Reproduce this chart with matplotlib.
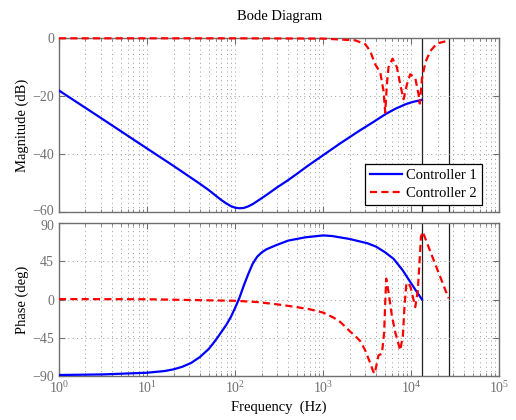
import matplotlib
matplotlib.use('Agg')
import matplotlib.pyplot as plt
import matplotlib.transforms as mtrans

plt.rcParams['font.family'] = ['Liberation Serif', 'DejaVu Serif']
plt.rcParams['mathtext.fontset'] = 'stix'
plt.rcParams['font.size'] = 10.5

# Controller 1 (blue)
f_mag1 = [1, 3, 10, 20, 40, 50, 60, 70, 80, 90, 100, 112, 125, 140, 160, 190, 230,
          300, 387, 500, 653, 1000, 1550, 2630, 3700, 5070, 6500, 8530, 10500,
          12650, 13240]
mag1 = [-18, -27.5, -38, -44, -50.2, -52.3, -54.2, -55.8, -57, -57.9, -58.4, -58.6,
        -58.5, -58, -57.1, -55.6, -53.9, -51.4, -49.2, -46.8, -44.2, -40.3, -36.3,
        -31.7, -28.9, -26.2, -24.4, -22.8, -21.9, -21.4, -21.2]
f_ph1 = [1, 3.16, 10, 15.8, 20, 25.1, 31.6, 39.8, 50.1, 56.2, 63.1, 70.8, 79.4, 89.1,
         100, 112, 126, 141, 158, 178, 200, 224, 282, 398, 631, 1000, 1259, 1995,
         3162, 3981, 5012, 6310, 7943, 10000, 11482, 13240]
ph1 = [-89.2, -88.5, -86.5, -84.5, -82.5, -79.5, -75, -68, -58.5, -52, -45, -37.5,
       -30, -21, -10, 2, 17, 30, 42, 50.5, 55.5, 59, 63.5, 69.5, 73.5, 75.7, 75, 71.5,
       66.5, 62.5, 56, 48, 35, 19, 9.5, 0]

# Controller 2 (red)
f_mag2 = [1, 100, 1000, 2310, 3000, 3420, 3900, 4450, 4840, 5070, 5290, 5520, 6130,
          6880, 7500, 8180, 8940, 9750, 11100, 12100, 12500, 13240, 14450, 16450,
          19600, 25500, 26550]
mag2 = [0, 0, -0.1, -0.7, -2, -4.4, -9, -11.8, -18, -25.6, -15.9, -10, -7, -10,
        -15.9, -21, -15.9, -12.4, -13.6, -19.3, -22.5, -14, -8.4, -4.4, -1.8, -0.9, -0.8]
f_ph2 = [1, 10, 40, 100, 178, 316, 501, 708, 1000, 1318, 1560, 1780, 2030, 2310,
         2630, 3000, 3420, 3700, 3850, 4250, 4650, 4930, 5070, 5200, 5520, 6030, 6580,
         7500, 8050, 8400, 8780, 9250, 9870, 11100, 11860, 12420, 12890, 13520, 15740,
         26550]
ph2 = [0.5, 0.3, -0.8, -1.5, -3, -6, -9, -11.6, -15.5, -21.5, -26.5, -32, -38, -43,
       -49, -60, -75, -85, -87.5, -66, -64, -38.5, -3, 24.7, 9, -19, -38.5, -60, -42.5,
       -7, 17, 20, 14, -9, 10, 44, 74, 80, 62, 1.5]

nyq_lines = [13240, 26550]
labels = ['Controller 1', 'Controller 2']

fig = plt.figure(figsize=(5.16, 4.2), dpi=100)
ax1 = fig.add_axes([0.1143, 0.4945, 0.8533, 0.4143])
ax2 = fig.add_axes([0.1143, 0.1055, 0.8533, 0.3628])

gray = '#707070'
grid_kw = dict(color='#9a9a9a', lw=0.7, linestyle=(0, (1, 3.5)))
for ax in (ax1, ax2):
    ax.set_xscale('log')
    ax.set_xlim(1, 1e5)
    ax.grid(True, which='major', **grid_kw)
    ax.grid(True, which='minor', axis='x', **grid_kw)
    ax.tick_params(which='both', direction='in', top=True, right=True, colors=gray,
                   labelsize=10)
    ax.tick_params(which='major', length=4)
    ax.tick_params(which='minor', length=2)
    for s in ax.spines.values():
        s.set_color(gray)
        s.set_linewidth(1.0)
    for xv in nyq_lines:
        ax.axvline(xv, color='#202020', lw=0.9, zorder=1)

ax1.plot(f_mag1, mag1, color='blue', lw=1.6, label=labels[0], zorder=3)
ax1.plot(f_mag2, mag2, color='red', lw=1.6, dashes=(3.2, 1.9), label=labels[1],
         zorder=3, clip_on=False)
ax1.set_ylim(-60, 0)
ax1.set_yticks([-60, -40, -20, 0])
ax1.tick_params(labelbottom=False)
ax1.set_ylabel('Magnitude (dB)')
ax1.yaxis.set_label_coords(-0.068, 0.5)
ax1.set_title('Bode Diagram', fontsize=10.5, pad=13)
ax1.legend(loc='lower right', bbox_to_anchor=(0.934, 0.512), bbox_transform=fig.transFigure,
           borderaxespad=0, fancybox=False, edgecolor='black', framealpha=1,
           handlelength=2.2, handletextpad=0.3, borderpad=0.35, labelspacing=0.3)
ax1.get_legend().get_frame().set_linewidth(0.9)

ax2.plot(f_ph1, ph1, color='blue', lw=1.6, zorder=3)
ax2.plot(f_ph2, ph2, color='red', lw=1.6, dashes=(3.2, 1.9), zorder=3)
ax2.set_ylim(-90, 90)
ax2.set_yticks([-90, -45, 0, 45, 90])
ax2.set_ylabel('Phase (deg)')
ax2.yaxis.set_label_coords(-0.068, 0.5)
ax2.set_xlabel('Frequency  (Hz)')
ax2.xaxis.set_label_coords(0.5, -0.165)

# nudge the two labels that meet between the panels apart a little
fig.canvas.draw()
up = mtrans.ScaledTranslation(0, 2 / 100, fig.dpi_scale_trans)
down = mtrans.ScaledTranslation(0, -2 / 100, fig.dpi_scale_trans)
lab_bottom = ax1.get_yticklabels()[0]
lab_bottom.set_transform(lab_bottom.get_transform() + up)
lab_top = ax2.get_yticklabels()[-1]
lab_top.set_transform(lab_top.get_transform() + down)

fig.savefig('out.png', dpi=100)
